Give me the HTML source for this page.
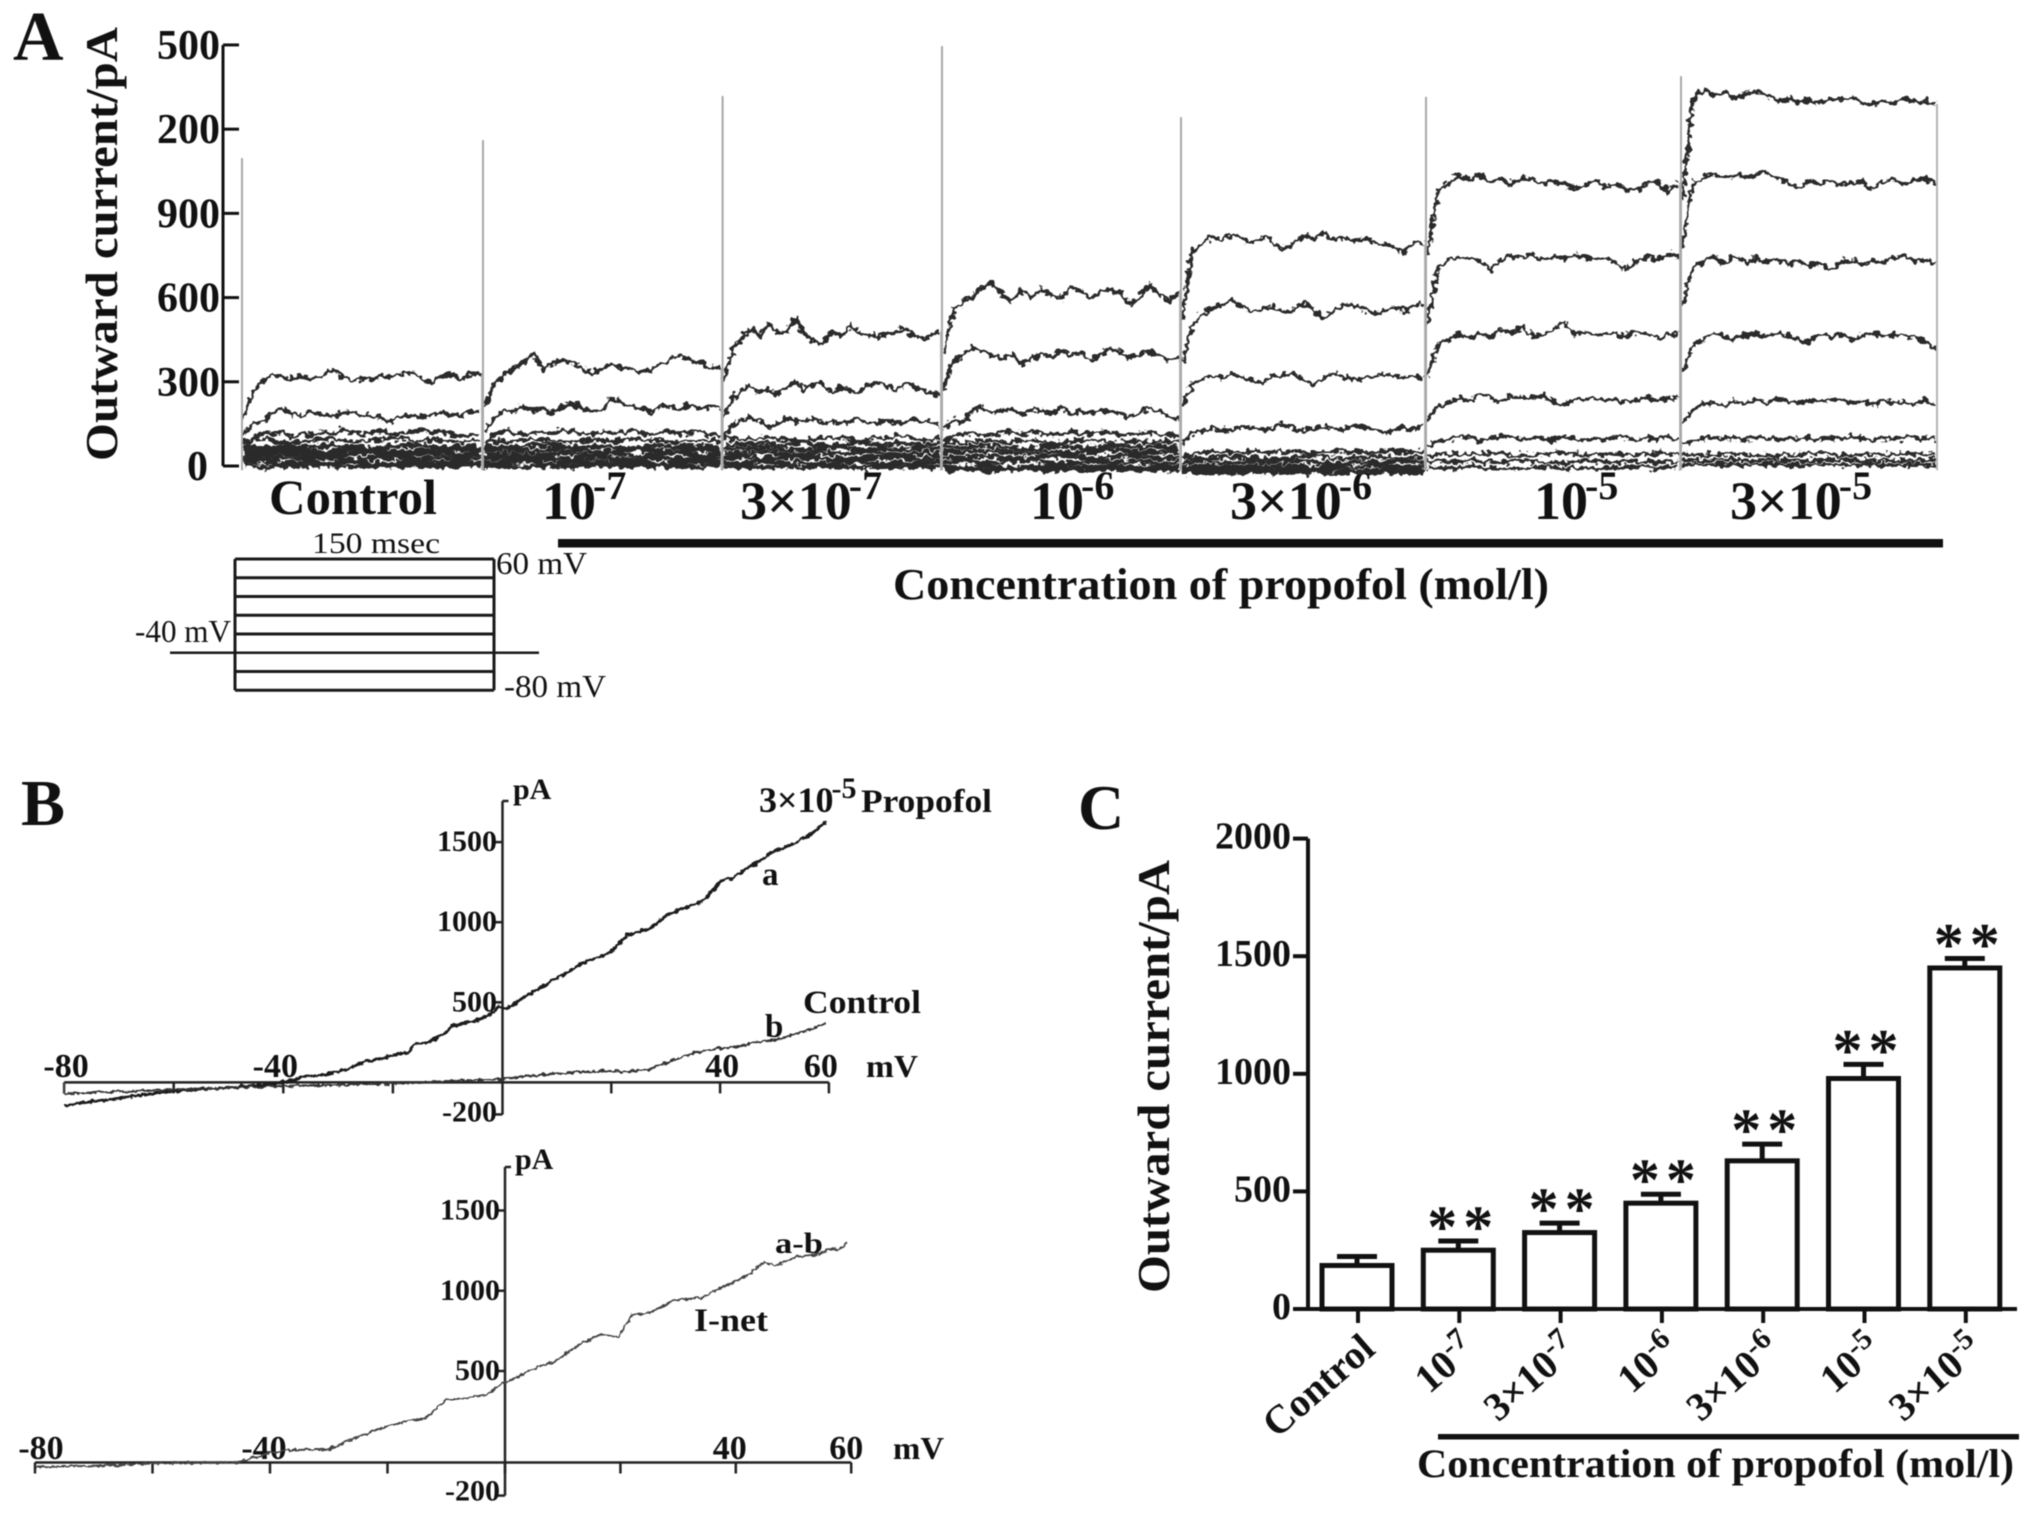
<!DOCTYPE html>
<html lang="en">
<head>
<meta charset="utf-8">
<title>Outward current and propofol concentration</title>
<style>
html,body{margin:0;padding:0;background:#fff}
svg#fig{display:block;filter:blur(0.6px)}
text{font-family:"Liberation Serif",serif;fill:#111}
.b{font-weight:bold}
</style>
</head>
<body>
<svg id="fig" width="2031" height="1514" viewBox="0 0 2031 1514" xmlns="http://www.w3.org/2000/svg">
<defs>
<filter id="traceNoise" filterUnits="userSpaceOnUse" x="225" y="40" width="1740" height="450" color-interpolation-filters="sRGB">
<feTurbulence type="fractalNoise" baseFrequency="0.17" numOctaves="2" seed="3" result="n"/>
<feDisplacementMap in="SourceGraphic" in2="n" scale="10" xChannelSelector="R" yChannelSelector="G"/>
</filter>
<filter id="curveNoise" filterUnits="userSpaceOnUse" x="0" y="780" width="1000" height="730" color-interpolation-filters="sRGB">
<feTurbulence type="fractalNoise" baseFrequency="0.2" numOctaves="2" seed="7" result="n"/>
<feDisplacementMap in="SourceGraphic" in2="n" scale="5" xChannelSelector="R" yChannelSelector="G"/>
</filter>
</defs>
<rect width="2031" height="1514" fill="#fff"/>

<!-- Panel letters -->
<text class="b" x="13" y="60" font-size="70">A</text>
<text class="b" x="21" y="825" font-size="66">B</text>
<text class="b" x="1078" y="829" font-size="64">C</text>

<!-- Panel A static text -->
<text class="b" transform="translate(117,461) rotate(-90)" font-size="46" textLength="434" lengthAdjust="spacingAndGlyphs">Outward current/pA</text>
<text class="b" x="269" y="514" font-size="50" textLength="168" lengthAdjust="spacingAndGlyphs">Control</text>
<text class="b" x="542" y="519" font-size="54">10<tspan dy="-20" dx="-3" font-size="40">-7</tspan></text>
<text class="b" x="740" y="519" font-size="54">3×10<tspan dy="-20" dx="-3" font-size="40">-7</tspan></text>
<text class="b" x="1030" y="519" font-size="54">10<tspan dy="-20" dx="-3" font-size="40">-6</tspan></text>
<text class="b" x="1230" y="519" font-size="54">3×10<tspan dy="-20" dx="-3" font-size="40">-6</tspan></text>
<text class="b" x="1534" y="519" font-size="54">10<tspan dy="-20" dx="-3" font-size="40">-5</tspan></text>
<text class="b" x="1730" y="519" font-size="54">3×10<tspan dy="-20" dx="-3" font-size="40">-5</tspan></text>
<rect x="558" y="539" width="1385" height="8.5" fill="#111"/>
<text class="b" x="893" y="599" font-size="44" textLength="656" lengthAdjust="spacingAndGlyphs">Concentration of propofol (mol/l)</text>

<!-- Voltage protocol text -->
<text x="312" y="553" font-size="30" textLength="128" lengthAdjust="spacingAndGlyphs">150 msec</text>
<text x="496" y="574" font-size="32" textLength="91" lengthAdjust="spacingAndGlyphs">60 mV</text>
<text x="135" y="642" font-size="32" textLength="96" lengthAdjust="spacingAndGlyphs">-40 mV</text>
<text x="504" y="697" font-size="32" textLength="102" lengthAdjust="spacingAndGlyphs">-80 mV</text>

<!-- Panel B static text -->
<text class="b" x="513" y="799" font-size="30">pA</text>
<text class="b" x="759" y="812" font-size="36">3×10<tspan dy="-14" dx="-2" font-size="30">-5</tspan></text>
<text class="b" x="861" y="812" font-size="33" textLength="131" lengthAdjust="spacingAndGlyphs">Propofol</text>
<text class="b" x="762" y="885" font-size="33">a</text>
<text class="b" x="765" y="1037" font-size="33">b</text>
<text class="b" x="803" y="1013" font-size="33" textLength="118" lengthAdjust="spacingAndGlyphs">Control</text>
<text class="b" x="866" y="1077" font-size="32" textLength="52" lengthAdjust="spacingAndGlyphs">mV</text>
<text class="b" x="515" y="1169" font-size="30">pA</text>
<text class="b" x="775" y="1253" font-size="30" textLength="48" lengthAdjust="spacingAndGlyphs">a-b</text>
<text class="b" x="694" y="1331" font-size="33" textLength="74" lengthAdjust="spacingAndGlyphs">I-net</text>
<text class="b" x="893" y="1459" font-size="32" textLength="51" lengthAdjust="spacingAndGlyphs">mV</text>

<!-- Panel C static text -->
<text class="b" transform="translate(1169,1293) rotate(-90)" font-size="46" textLength="433" lengthAdjust="spacingAndGlyphs">Outward current/pA</text>
<rect x="1438" y="1434" width="581" height="5.5" fill="#111"/>
<text class="b" x="1417" y="1477" font-size="40" textLength="597" lengthAdjust="spacingAndGlyphs">Concentration of propofol (mol/l)</text>

<g id="panelA"></g>
<g id="protocol"></g>
<g id="panelB1"></g>
<g id="panelB2"></g>
<g id="panelC"></g>
</svg>

<script>
// ---------- Panel A data (pA) ----------
const aTickValues = [0, 300, 600, 900, 1200, 1500];
const aTickLabels = ["0", "300", "600", "900", "200", "500"];
const aSpikePeaks = [1097, 1161, 1318, 1496, 1243, 1315, 1389];

const aControl = [
 [170,262,300,328,318,310,322,308,318,345,322,300,312,305,322,318,330,332,312,298,318,322,310,328,325],
 [110,150,160,188,205,185,178,192,185,178,188,190,182,178,170,155,178,180,172,185,190,182,178,195,192],
 [70,100,118,112,120,105,116,110,122,112,128,118,110,120,126,112,118,122,130,118,124,112,108,110,112],
 [88,95,82,90,98,86,92,100,88,94,85,90],
 [70,64,72,66,74,68,62,70,76,66,68,64],
 [56,50,58,53,48,60,54,50,56,52,58,54],
 [42,38,46,40,36,44,48,38,42,46,40,44],
 [28,24,30,26,32,22,28,34,24,30,26,28],
 [12,16,8,14,10,18,6,12,16,10,14,8],
 [0,-4,3,-2,2,-3,1,-1,4,-2,0,2]
];
const aConc1e7 = [
 [210,290,325,345,370,405,345,370,378,368,350,330,350,365,345,350,335,345,365,385,395,375,365,352,350],
 [120,170,205,195,212,200,205,190,212,222,205,195,200,240,222,212,205,190,215,212,205,218,205,215,205],
 [75,110,125,118,112,118,124,115,128,122,118,112,125,118,122,128,118,112,125,120,116,118,122,112,108],
 [92,86,96,90,84,94,88,98,90,86,92,88],
 [70,66,72,76,64,72,68,62,74,68,66,70],
 [56,60,52,58,62,54,50,60,56,52,58,54],
 [40,44,36,42,46,38,44,36,42,48,38,42],
 [26,30,22,28,24,32,26,20,30,24,28,26],
 [10,14,18,8,12,16,10,14,6,12,16,10],
 [-2,2,-4,1,-3,3,-1,2,-3,0,-2,1]
];
const aConc3e7 = [
 [300,420,455,490,462,510,470,480,525,470,445,435,475,465,500,480,465,460,475,470,490,465,450,465,480],
 [170,240,270,285,262,270,255,280,300,270,290,295,262,280,270,260,285,300,285,270,295,285,270,260,250],
 [100,145,165,170,160,135,150,170,162,160,168,152,165,150,158,170,155,150,162,158,155,168,160,158,140],
 [100,94,104,96,90,102,98,92,100,106,94,98],
 [80,74,82,76,84,72,78,86,74,80,76,82],
 [64,58,66,60,54,62,68,56,62,58,64,60],
 [46,42,50,44,38,48,42,52,44,40,46,42],
 [28,32,24,30,34,26,22,30,28,34,24,30],
 [12,8,16,10,14,6,12,16,8,12,10,14],
 [-4,0,-6,-2,-5,1,-3,-6,0,-4,-2,-5]
];
const aConc1e6 = [
 [400,545,590,600,640,655,610,590,625,600,630,610,595,640,625,600,620,630,615,580,600,650,610,585,625],
 [270,370,395,420,410,395,380,395,365,380,400,385,415,395,410,370,395,420,405,385,400,410,395,375,385],
 [130,165,155,200,210,190,195,205,180,205,195,190,208,185,195,190,200,195,188,175,190,205,195,175,165],
 [80,105,115,120,112,110,118,125,112,120,118,110,115,125,112,118,120,122,105,118,115,120,112,108,110],
 [88,82,92,84,90,80,86,94,82,88,84,90],
 [70,64,74,66,60,72,68,62,74,66,70,64],
 [52,48,56,50,44,54,46,52,58,48,50,54],
 [34,28,36,30,26,38,32,28,34,36,28,32],
 [14,18,10,16,20,12,8,16,14,18,10,14],
 [-2,-6,0,-8,-4,-1,-7,-3,0,-6,-2,-5],
 [-14,-10,-16,-12,-9,-15,-11,-14,-10,-16,-12,-13]
];
const aConc3e6 = [
 [520,760,800,815,805,825,810,795,815,800,770,790,820,810,830,805,815,800,810,795,790,780,760,800,790],
 [370,500,540,560,575,590,565,550,560,570,545,555,585,560,525,555,570,575,560,545,550,565,555,570,575],
 [210,290,310,320,315,330,310,305,295,318,320,330,310,290,315,330,320,305,310,315,330,320,312,325,310],
 [80,115,125,135,130,128,140,135,130,135,150,135,125,130,140,135,128,145,135,130,118,125,140,130,145],
 [30,42,48,55,50,52,45,55,48,52,50,55,48,45,52,50,55,48,50,45,52,55,48,52,50],
 [30,26,34,28,24,32,36,26,30,34,28,32],
 [14,18,10,16,12,20,14,8,16,12,18,14],
 [-2,2,-5,0,-3,4,-6,1,-2,3,-4,0],
 [-14,-10,-17,-12,-16,-9,-15,-11,-18,-13,-10,-15],
 [-24,-21,-26,-22,-25,-20,-24,-27,-21,-25,-23,-24]
];
const aConc1e5 = [
 [750,970,1010,1035,1020,1040,1010,1025,1000,1030,1020,1005,1015,1010,985,1000,1020,990,1005,985,980,1010,1015,975,1010],
 [500,700,735,745,740,730,700,735,750,745,755,735,745,740,755,745,735,740,720,700,730,745,735,755,745],
 [320,430,450,470,455,475,460,485,470,500,460,470,480,515,470,480,465,475,470,460,480,470,455,465,475],
 [160,210,225,240,230,255,245,225,250,245,240,250,230,215,240,235,245,230,240,225,235,245,230,240,245],
 [70,90,95,100,105,92,98,110,100,95,102,98,90,105,98,92,100,95,105,98,92,100,95,102,96],
 [38,44,40,46,36,42,48,38,44,40,46,42],
 [18,14,20,12,18,16,10,20,14,18,12,16],
 [-4,-8,-2,-10,-6,-3,-9,-5,-8,-2,-7,-5]
];
const aConc3e5 = [
 [950,1300,1345,1320,1330,1310,1325,1335,1320,1300,1310,1295,1305,1290,1310,1300,1315,1295,1285,1300,1290,1310,1295,1300,1290],
 [780,1000,1030,1040,1025,1035,1030,1040,1050,1020,1010,990,1015,1005,1020,1000,1010,1015,985,1010,1020,1005,1015,1025,1005],
 [570,700,730,745,720,750,720,740,725,735,720,730,715,725,700,725,735,720,730,725,740,750,730,735,725],
 [330,430,450,475,460,455,465,470,460,475,465,450,445,470,460,470,450,465,475,460,470,465,455,445,420],
 [150,200,220,225,215,230,225,235,225,240,230,225,235,225,240,235,225,230,220,235,225,230,220,235,215],
 [75,92,98,102,96,100,94,104,98,92,100,96,102,94,100,96,104,98,92,100,96,102,98,100,96],
 [42,38,44,40,36,42,46,38,42,40,44,41],
 [21,18,23,19,22,17,21,24,18,21,19,22],
 [5,2,6,3,7,1,5,3,6,2,5,4]
];

// ---------- Protocol data (mV) ----------
const protocolLevels = [60, 40, 20, 0, -20, -40, -60, -80];

// ---------- Panel B data ----------
const bxTickValues = [-80, -60, -40, -20, 0, 20, 40, 60];
const bTopYTicks = [1500, 1000, 500, -200];
const curveAmV = [-80,-75,-70,-65,-60,-56,-51,-46,-41.6,-38,-35.8,-33,-30,-27,-25.3,-22,-19.5,-17,-16,-14,-12.6,-10.5,-9,-6.5,-4.4,-2,-0.5,0.8,3,4.9,7,9.5,12,14.2,16.5,18.8,20.5,22.9,25,27,29,30.5,33,36.3,38.5,40.3,42.5,45,47.5,50,53,56,57.5,59.5];
const curveApA = [-145,-120,-100,-75,-55,-45,-33,-22,-9,18,36,44,67,100,127,150,173,190,242,250,264,310,355,372,391,425,476,460,510,551,590,642,690,733,770,794,830,921,940,960,1010,1051,1085,1121,1190,1263,1280,1339,1385,1445,1480,1536,1570,1627];
const curveBmV = [-80,-68,-60,-42,-22,0,8.4,18.3,22.9,27,31.6,35,39.8,43.8,46.7,50,53.7,56,59.5];
const curveBpA = [-70,-55,-45,-24,-9,21,52,73,67,82,142,182,212,224,255,264,303,324,370];
const netmV = [-80,-71,-60,-45.5,-41,-37.8,-30,-25.6,-21.2,-16.8,-13.5,-10.2,-6.9,-3.5,-0.2,4.2,8.6,13,16.4,19.7,21.9,25.2,29.6,34,37.3,41.8,45,46.7,50.6,54.5,56,57.8,59.4];
const netpA = [-27,-21,-5,0,45,67,72,134,185,225,241,340,353,366,433,500,561,667,727,712,848,864,945,955,1015,1091,1182,1151,1212,1227,1258,1258,1303];

// ---------- Panel C data ----------
const cCategories = ["Control", "10", "3×10", "10", "3×10", "10", "3×10"];
const cExponents = ["", "-7", "-7", "-6", "-6", "-5", "-5"];
const cMeans = [185, 250, 325, 450, 630, 980, 1450];
const cErrorTops = [223, 289, 365, 488, 701, 1040, 1490];
const cStars = ["", "**", "**", "**", "**", "**", "**"];
const cTickValues = [0, 500, 1000, 1500, 2000];

// ---------- helpers ----------
const NS = "http://www.w3.org/2000/svg";
function add(parent, tag, attrs) {
  const el = document.createElementNS(NS, tag);
  for (const k in attrs) el.setAttribute(k, attrs[k]);
  parent.appendChild(el);
  return el;
}
function seg(parent, x1, y1, x2, y2, color, width) {
  return add(parent, "line", {x1: x1, y1: y1, x2: x2, y2: y2, stroke: color, "stroke-width": width});
}
function label(parent, str, x, y, size, anchor) {
  const t = add(parent, "text", {x: x, y: y, "font-size": size, "text-anchor": anchor, "font-weight": "bold"});
  t.textContent = str;
  return t;
}
function pts(xs, ys) { return xs.map((v, i) => v.toFixed(1) + "," + ys[i].toFixed(1)).join(" "); }

// ---------- Panel A ----------
(function () {
  const g = document.getElementById("panelA");
  const yA = v => 466 - v * 0.2807;
  const edges = [242, 483, 722.6, 942, 1181, 1426, 1681, 1938];
  const sweeps = [aControl, aConc1e7, aConc3e7, aConc1e6, aConc3e6, aConc1e5, aConc3e5];

  const axis = seg(g, 223, yA(1500), 223, yA(0), "#111", 3);
  
  
  aTickValues.forEach((v, i) => {
    const t = seg(g, 223, yA(v), 239, yA(v), "#111", 3);
    
    
    const l = label(g, aTickLabels[i], v === 0 ? 208 : 220, yA(v) + 14, 42, "end");
    
    
  });

  const traceLayer = add(g, "g", {filter: "url(#traceNoise)"});
  
  

  sweeps.forEach((traces, s) => {
    const x0 = edges[s] + 1, x1 = edges[s + 1] - 2;
    const sp = seg(g, edges[s], yA(-15), edges[s], yA(aSpikePeaks[s]), "#a8a8a8", 2);
    
    
    const top = traces[0];
    const edge = seg(g, x1 + 1, yA(top[top.length - 1]), x1 + 1, yA(-15), "#b5b5b5", 2);
    
    
    const bandWidth = s < 4 ? 4.2 : s === 4 ? 3.8 : 3.6;
    const firstBand = traces.findIndex(v => v.length < 20);
    traces.forEach((vals, t) => {
      const xs = vals.map((_, i) => x0 + i / (vals.length - 1) * (x1 - x0));
      const w = vals.length >= 20 ? 3.5 : (t === firstBand ? 3.2 : bandWidth);
      const p = add(traceLayer, "polyline", {points: pts(xs, vals.map(yA)), fill: "none", stroke: "#2a2a2a", "stroke-width": w, "stroke-linejoin": "round"});
      
      
    });
  });
})();

// ---------- Protocol ----------
(function () {
  const g = document.getElementById("protocol");
  const yP = mv => 559 + (60 - mv) * 0.9375;
  const left = 235, right = 494;
  protocolLevels.forEach(mv => {
    const hold = mv === -40;
    const l = seg(g, hold ? 170 : left, yP(mv), hold ? 539 : right, yP(mv), "#1a1a1a", hold ? 2.5 : 3);
    
    
  });
  const a = seg(g, left, yP(60), left, yP(-80), "#1a1a1a", 3);
  
  
  const b = seg(g, right, yP(60), right, yP(-80), "#1a1a1a", 3);
  
  
})();

// ---------- Panel B top ----------
(function () {
  const g = document.getElementById("panelB1");
  const xB = mv => 502.5 + mv * (mv < 0 ? 5.48 : 5.44);
  const yB = v => 1082.4 - v * 0.1602;
  const xAxis = seg(g, xB(-80), yB(0), xB(60), yB(0), "#222", 2.5);
  
  
  const yAxis = seg(g, xB(0), 801, xB(0), yB(-200), "#222", 2.5);
  
  
  const cap = seg(g, xB(0), 801, xB(0) + 6, 801, "#222", 2.5);
  
  
  bxTickValues.forEach(mv => {
    if (mv === 0) return;
    const t = seg(g, xB(mv), yB(0), xB(mv), yB(0) + 11, "#222", 2.5);
    
    
    if (mv === -60 || mv === -20 || mv === 20) return;
    const l = label(g, String(mv), xB(mv) + (mv === -80 ? 2 : mv === -40 ? -8 : mv === 40 ? 2 : -8), 1077, 34, "middle");
    
    
  });
  bTopYTicks.forEach(v => {
    const t = seg(g, xB(0) - 7, yB(v), xB(0), yB(v), "#222", 2.5);
    
    
    const l = label(g, String(v), 497, yB(v) + (v < 0 ? 7 : 9), 30, "end");
    
    
  });
  const box = seg(g, xB(-80), yB(0), xB(-80), yB(-70), "#444", 2);
  
  
  const a = add(g, "polyline", {points: pts(curveAmV.map(xB), curveApA.map(yB)), fill: "none", stroke: "#1c1c1c", "stroke-width": 3, "stroke-linejoin": "round", filter: "url(#curveNoise)"});
  
  
  const b = add(g, "polyline", {points: pts(curveBmV.map(xB), curveBpA.map(yB)), fill: "none", stroke: "#333", "stroke-width": 2.2, "stroke-linejoin": "round", filter: "url(#curveNoise)"});
  
  
})();

// ---------- Panel B bottom ----------
(function () {
  const g = document.getElementById("panelB2");
  const xN = mv => 505 + mv * (mv < 0 ? 5.875 : 5.77);
  const yN = v => {
    if (v < 0) return 1462.5 - v * 0.1655;
    if (v < 500) return 1462.5 - v * 0.183;
    return 1371 - (v - 500) * 0.1605;
  };
  const xAxis = seg(g, xN(-80), yN(0), xN(60), yN(0), "#222", 2.5);
  
  
  const yAxis = seg(g, xN(0), 1167, xN(0), yN(-200), "#222", 2.5);
  
  
  const cap = seg(g, xN(0), 1167, xN(0) + 6, 1167, "#222", 2.5);
  
  
  bxTickValues.forEach(mv => {
    const t = seg(g, xN(mv), yN(0), xN(mv), yN(0) + 11, "#222", 2.5);
    
    
    if (mv === 0 || mv === -60 || mv === -20 || mv === 20) return;
    const l = label(g, String(mv), xN(mv) + (mv === -80 ? 6 : mv === -40 ? -6 : mv === 60 ? -5 : -6), 1459, 34, "middle");
    
    
  });
  bTopYTicks.forEach(v => {
    const t = seg(g, xN(0) - 7, yN(v), xN(0), yN(v), "#222", 2.5);
    
    
    const l = label(g, String(v), 500, yN(v) + (v < 0 ? 5 : 9), 30, "end");
    
    
  });
  const net = add(g, "polyline", {points: pts(netmV.map(xN), netpA.map(yN)), fill: "none", stroke: "#444", "stroke-width": 2, "stroke-linejoin": "round", filter: "url(#curveNoise)"});
  
  
})();

// ---------- Panel C ----------
(function () {
  const g = document.getElementById("panelC");
  const xC = i => 1357 + i * 101.3;
  const yC = v => 1309 - v * 0.2352;
  const barW = 70;
  const yAxis = seg(g, 1308, yC(2000), 1308, yC(0), "#111", 4);
  
  
  cTickValues.forEach(v => {
    const t = seg(g, 1293, yC(v), 1308, yC(v), "#111", 4);
    
    
    const l = label(g, String(v), 1291, yC(v) + 10, 38, "end");
    
    
  });
  cMeans.forEach((v, i) => {
    const cx = xC(i);
    const stem = seg(g, cx, yC(v), cx, yC(cErrorTops[i]), "#111", 5);
    
    
    const capLine = seg(g, cx - 20, yC(cErrorTops[i]), cx + 20, yC(cErrorTops[i]), "#111", 5);
    
    
    const bar = add(g, "rect", {x: cx - barW / 2, y: yC(v), width: barW, height: yC(0) - yC(v), fill: "#fff", stroke: "#111", "stroke-width": 5});
    
    
    const tick = seg(g, cx + 1, yC(0), cx + 1, yC(0) + 14, "#111", 4);
    
    

    if (cStars[i]) {
      const s = add(g, "text", {x: cx + 5, y: yC(cErrorTops[i]) + 6, "font-size": 60, "text-anchor": "middle", "font-weight": "bold", "letter-spacing": 6});
      s.textContent = cStars[i];
      
      
    }

    const ax = cx + 20, ay = 1352;
    const lab = add(g, "text", {x: ax, y: ay, "font-size": 40, "text-anchor": "end", "font-weight": "bold", transform: "rotate(-41 " + ax + " " + ay + ")"});
    
    
    const base = add(lab, "tspan", {});
    base.textContent = cCategories[i];
    if (cExponents[i]) {
      const sup = add(lab, "tspan", {dy: -14, "font-size": 30});
      sup.textContent = cExponents[i];
    }
  });
  const xAxis = seg(g, 1293, yC(0), 2017, yC(0), "#111", 4);
  
  
})();
</script>
</body>
</html>
